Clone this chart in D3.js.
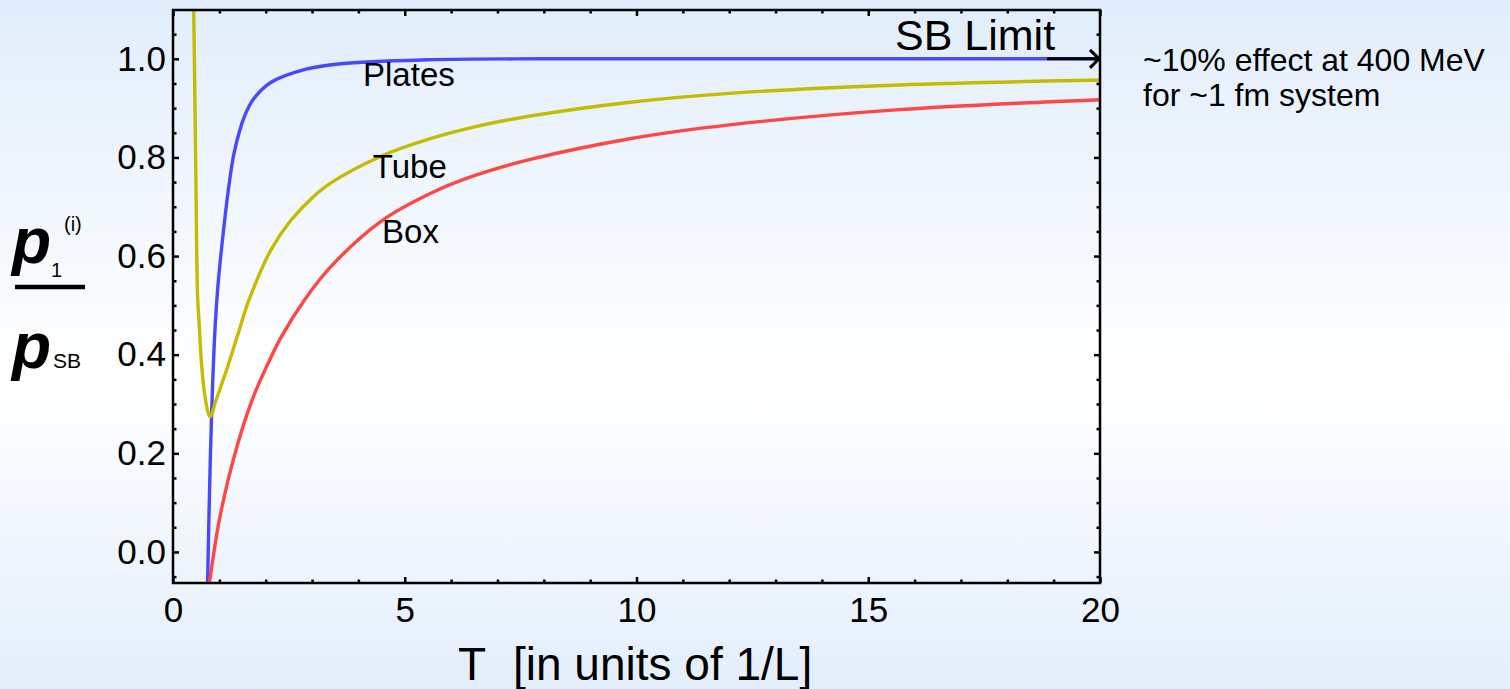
<!DOCTYPE html>
<html>
<head>
<meta charset="utf-8">
<script src="https://cdn.jsdelivr.net/npm/d3@7/dist/d3.min.js"></script>
<style>
  body { margin: 0; overflow: hidden; }
  svg text { font-family: 'Liberation Sans', Arial, Helvetica, sans-serif; fill: #000; }
</style>
</head>
<body>
<div id="viz"></div>
<script>
// tick values
const xTicks = [0, 5, 10, 15, 20],
    yTicks = [0, 0.2, 0.4, 0.6, 0.8, 1.0],
    seriesNames = ['Plates', 'Tube', 'Box'];

// curves: T and p1/pSB
const plateT = [0.745, 0.78, 0.83, 0.90, 0.97, 1.07, 1.21, 1.32, 1.54, 1.75, 2.11, 2.83, 3.62, 5.5, 8, 12, 20],
    plateP = [-0.07, 0.09, 0.27, 0.44, 0.54, 0.635, 0.745, 0.81, 0.883, 0.92, 0.952, 0.978, 0.990, 0.998, 1.0, 1.0, 1.0];

const tubeT = [0.446, 0.459, 0.495, 0.53, 0.566, 0.62, 0.69, 0.75, 0.80, 0.93, 1.18, 1.41, 1.64, 2.11, 2.54, 3.0, 3.40, 4.48, 5.55, 6.6, 7.71, 9.86, 12.01, 15.67, 20],
    tubeP = [1.10, 1.018, 0.748, 0.52, 0.46, 0.376, 0.315, 0.285, 0.274, 0.308, 0.376, 0.444, 0.511, 0.612, 0.672, 0.718, 0.748, 0.802, 0.838, 0.864, 0.884, 0.912, 0.930, 0.947, 0.957];

const boxT = [0.775, 0.9, 1.0, 1.2, 1.4, 1.6, 1.8, 2.0, 2.33, 2.83, 3.40, 4.48, 5.55, 6.5, 7.71, 9.86, 12.01, 15.67, 20],
    boxP = [-0.07, 0.01, 0.065, 0.15, 0.22, 0.28, 0.33, 0.372, 0.435, 0.51, 0.578, 0.67, 0.727, 0.763, 0.796, 0.838, 0.866, 0.897, 0.917];

const noteLines = ['~10% effect at 400 MeV', 'for ~1 fm system'];

const W = 1510, H = 689,
    plot = {left: 173, right: 1100, top: 10, bottom: 583};

const x = d3.scaleLinear().domain([0, 20]).range([plot.left, plot.right]);
const y = d3.scaleLinear().domain([-0.063, 1.099]).range([plot.bottom, plot.top]);

const svg = d3.select('#viz').append('svg')
    .attr('width', W)
    .attr('height', H);

// background gradient
const grad = svg.append('defs').append('linearGradient')
    .attr('id', 'bg').attr('x1', 0).attr('y1', 0).attr('x2', 0).attr('y2', 1);
grad.append('stop').attr('offset', '0%').attr('stop-color', '#e1edfb');
grad.append('stop').attr('offset', '55%').attr('stop-color', '#ffffff');
grad.append('stop').attr('offset', '100%').attr('stop-color', '#e3eefc');

svg.select('defs').append('clipPath').attr('id', 'clip')
    .append('rect')
    .attr('x', plot.left).attr('y', plot.top)
    .attr('width', plot.right - plot.left).attr('height', plot.bottom - plot.top);

svg.append('rect').attr('width', W).attr('height', H).attr('fill', 'url(#bg)');

// curves
const series = [
    {name: seriesNames[0], t: plateT, p: plateP, color: '#4848ff'},
    {name: seriesNames[1], t: tubeT, p: tubeP, color: '#c4bc00'},
    {name: seriesNames[2], t: boxT, p: boxP, color: '#ff4646'}
];

const line = d3.line()
    .x(d => x(d[0]))
    .y(d => y(d[1]))
    .curve(d3.curveCatmullRom.alpha(0.5));

svg.append('g').attr('clip-path', 'url(#clip)')
    .selectAll('path')
    .data(series)
    .enter().append('path')
    .attr('d', s => line(s.t.map((t, i) => [t, s.p[i]])))
    .attr('fill', 'none')
    .attr('stroke', s => s.color)
    .attr('stroke-width', 3.4)
    .attr('stroke-linejoin', 'round');

// frame + ticks (inward, on all four sides)
const minorX = d3.range(0, 20.01, 1).filter(v => v % 5 !== 0),
    minorY = d3.range(-0.05, 1.1, 0.05).filter(v => Math.abs(v * 5 - Math.round(v * 5)) > 1e-6);

function addAxis(axisFn, scale, pos, transform, major, minor) {
    svg.append('g').attr('transform', transform)
        .call(axisFn(scale).tickValues(minor).tickFormat('').tickSizeInner(-3.5).tickSizeOuter(0))
        .call(g => g.select('.domain').remove())
        .call(g => g.selectAll('line').attr('stroke-width', 2.5));
    const gm = svg.append('g').attr('transform', transform)
        .call(axisFn(scale).tickValues(major).tickSizeInner(-6).tickSizeOuter(0).tickPadding(pos.pad)
            .tickFormat(pos.fmt))
        .call(g => g.select('.domain').remove())
        .call(g => g.selectAll('line').attr('stroke-width', 2.5));
    gm.selectAll('text').attr('font-size', 35)
        .style('font-family', "'Liberation Sans', Arial, sans-serif");
}

addAxis(d3.axisBottom, x, {pad: 14, fmt: d3.format('d')}, `translate(0,${plot.bottom})`, xTicks, minorX);
addAxis(d3.axisTop, x, {pad: 0, fmt: ''}, `translate(0,${plot.top})`, xTicks, minorX);
addAxis(d3.axisLeft, y, {pad: 7, fmt: d3.format('.1f')}, `translate(${plot.left},0)`, yTicks, minorY);
addAxis(d3.axisRight, y, {pad: 0, fmt: ''}, `translate(${plot.right},0)`, yTicks, minorY);

svg.append('rect')
    .attr('x', plot.left).attr('y', plot.top)
    .attr('width', plot.right - plot.left).attr('height', plot.bottom - plot.top)
    .attr('fill', 'none')
    .attr('stroke', '#000')
    .attr('stroke-width', 2.5);

// curve labels
const labelAt = [[4.10, 0.945], [4.31, 0.759], [4.51, 0.627]];
svg.append('g').selectAll('text')
    .data(series)
    .enter().append('text')
    .attr('x', (s, i) => x(labelAt[i][0]))
    .attr('y', (s, i) => y(labelAt[i][1]))
    .attr('font-size', 33)
    .text(s => s.name);

// SB limit arrow
svg.append('line')
    .attr('x1', x(18.86)).attr('x2', x(20) - 1)
    .attr('y1', y(1)).attr('y2', y(1))
    .attr('stroke', '#000').attr('stroke-width', 3);
svg.append('path')
    .attr('d', `M${x(20) - 10},${y(1) - 9}L${x(20) - 1},${y(1)}L${x(20) - 10},${y(1) + 9}`)
    .attr('fill', 'none').attr('stroke', '#000').attr('stroke-width', 3);
svg.append('text')
    .attr('x', 895).attr('y', 50)
    .attr('font-size', 43)
    .text('SB Limit');

// axis titles
svg.append('text').attr('x', 458).attr('y', 680).attr('font-size', 46).text('T');
svg.append('text').attr('x', 513).attr('y', 680).attr('font-size', 46).text('[in units of 1/L]');

const ylab = svg.append('g');
ylab.append('text').attr('x', 12).attr('y', 263).attr('font-size', 64)
    .attr('font-style', 'italic').attr('font-weight', 'bold').text('p');
ylab.append('text').attr('x', 51).attr('y', 277).attr('font-size', 20).text('1');
ylab.append('text').attr('x', 64).attr('y', 231).attr('font-size', 20).text('(i)');
ylab.append('line').attr('x1', 15).attr('x2', 85).attr('y1', 287).attr('y2', 287)
    .attr('stroke', '#000').attr('stroke-width', 4.5);
ylab.append('text').attr('x', 12).attr('y', 368).attr('font-size', 64)
    .attr('font-style', 'italic').attr('font-weight', 'bold').text('p');
ylab.append('text').attr('x', 53).attr('y', 368).attr('font-size', 21).text('SB');

// side note
svg.append('g').selectAll('text')
    .data(noteLines)
    .enter().append('text')
    .attr('x', 1143)
    .attr('y', (d, i) => 71 + i * 35)
    .attr('font-size', 32)
    .text(d => d);
</script>
</body>
</html>
